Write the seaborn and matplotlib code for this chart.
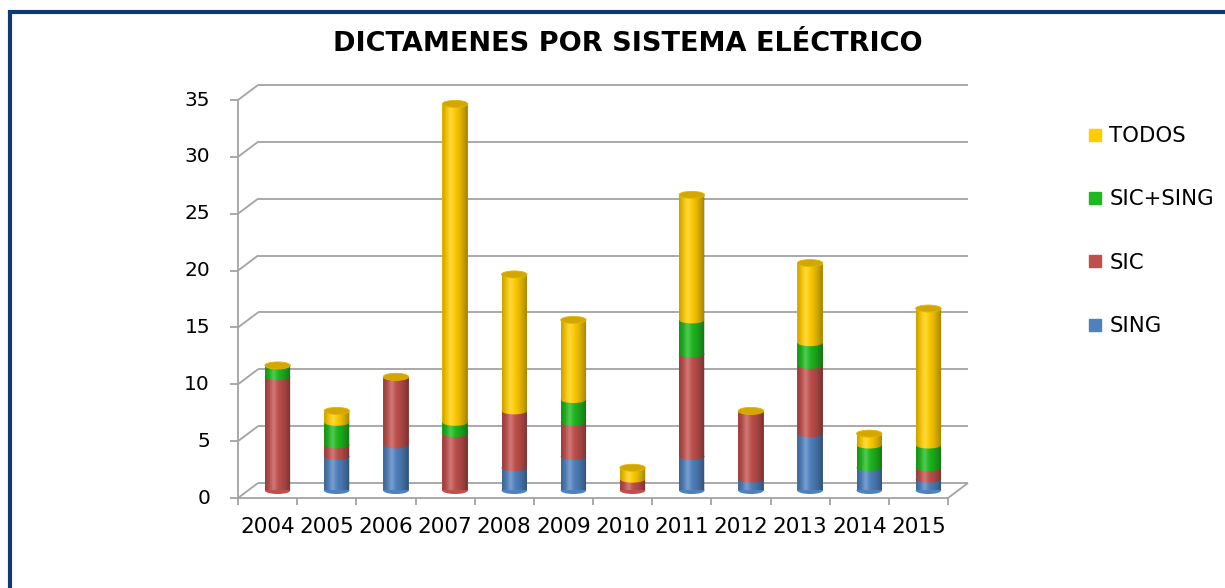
import numpy as np
import pandas as pd
import matplotlib
matplotlib.use("Agg")
import matplotlib.pyplot as plt
import seaborn as sns
from matplotlib.patches import Ellipse, Rectangle, Polygon
from matplotlib.lines import Line2D

years = ["2004", "2005", "2006", "2007", "2008", "2009",
         "2010", "2011", "2012", "2013", "2014", "2015"]
sing = [0, 3, 4, 0, 2, 3, 0, 3, 1, 5, 2, 1]
sic = [10, 1, 6, 5, 5, 3, 1, 9, 6, 6, 0, 1]
sic_sing = [1, 2, 0, 1, 0, 2, 0, 3, 0, 2, 2, 2]
todos = [0, 1, 0, 28, 12, 7, 1, 11, 0, 7, 1, 12]
series = ["SING", "SIC", "SIC+SING", "TODOS"]
colors = ["#4f81bd", "#c0504d", "#1fb81f", "#ffcc00"]
y_ticks = [0, 5, 10, 15, 20, 25, 30, 35]

W, H = 1225, 588
# plane the cylinders stand on (half way between front axis and back wall), in px
AX_LEFT, AX_RIGHT = 248, 958
AX_TOP, AX_BOTTOM = 92.5, 490.5
DEPTH_X, DEPTH_Y = 10, 7.5
BAR_W = 0.43
GRID = "#a3a3a3"


def main():
    sns.set_theme(style="white")
    plt.rcParams["font.family"] = ["DejaVu Sans"]
    plt.rcParams["text.color"] = "black"

    df = pd.DataFrame({"year": years, "SING": sing, "SIC": sic,
                       "SIC+SING": sic_sing, "TODOS": todos})
    stack = df[series].cumsum(axis=1)
    stack["year"] = years

    fig = plt.figure(figsize=(W / 100, H / 100), dpi=100)
    ax = fig.add_axes([AX_LEFT / W, 1 - AX_BOTTOM / H,
                       (AX_RIGHT - AX_LEFT) / W, (AX_BOTTOM - AX_TOP) / H])

    px_x = (AX_RIGHT - AX_LEFT) / 12
    px_y = (AX_BOTTOM - AX_TOP) / 35
    dx = DEPTH_X / px_x
    dy = DEPTH_Y / px_y
    e_h = 7 / px_y

    # stacked cylinders: totals first, lower sums drawn over them
    for i in reversed(range(len(series))):
        sns.barplot(data=stack, x="year", y=series[i], color=colors[i],
                    saturation=1, width=BAR_W, errorbar=None, linewidth=0,
                    ax=ax, zorder=2)

    u = np.linspace(0, 1, 80)
    dark = np.zeros((1, 80, 4))
    dark[0, :, 3] = (0.38 * np.clip((u - 0.4) / 0.6, 0, 1) ** 1.6
                     + 0.22 * np.clip((0.4 - u) / 0.4, 0, 1) ** 2)
    light = np.ones((1, 80, 4))
    light[0, :, 3] = 0.22 * np.exp(-((u - 0.33) / 0.12) ** 2)

    vals = df[series].to_numpy()
    cum = stack[series].to_numpy()
    for j in range(len(years)):
        total = cum[j, -1]
        x0, x1 = j - BAR_W / 2, j + BAR_W / 2
        nz = [i for i in range(4) if vals[j, i] > 0]
        # rounded bottom of the cylinder
        ax.add_patch(Ellipse((j, 0), BAR_W, e_h, color=colors[nz[0]], lw=0,
                             zorder=3, clip_on=False))
        # curved boundaries between segments
        for i in nz[1:]:
            ax.add_patch(Ellipse((j, cum[j, i - 1]), BAR_W, e_h, color=colors[i],
                                 lw=0, zorder=3, clip_on=False))
        t = np.linspace(np.pi, 2 * np.pi, 40)
        outline = np.column_stack([j + BAR_W / 2 * np.cos(t), e_h / 2 * np.sin(t)])
        outline = np.vstack([outline, [[x1, total], [x0, total]]])
        clip = Polygon(outline, closed=True, transform=ax.transData)
        for img in (dark, light):
            im = ax.imshow(img, extent=(x0, x1, -e_h / 2, total), aspect="auto",
                           interpolation="bilinear", zorder=4)
            im.set_clip_path(clip)
        ax.add_patch(Ellipse((j, total), BAR_W, e_h, facecolor="#d4a600",
                             edgecolor="#e0b800", lw=0.6, zorder=5, clip_on=False))

    ax.set_xlim(-0.5, 11.5)
    ax.set_ylim(0, 35)
    ax.axis("off")

    line_kw = dict(color=GRID, lw=1.3, clip_on=False, zorder=1,
                   solid_capstyle="butt")
    left_f, right_f = -0.5 - dx, 11.5 - dx
    for y in y_ticks:
        ax.plot([-0.5 + dx, 11.5 + dx], [y + dy, y + dy], **line_kw)
        ax.plot([left_f, -0.5 + dx], [y - dy, y + dy], **line_kw)
        ax.plot([left_f - 8 / px_x, left_f], [y - dy, y - dy], **line_kw)
        ax.text(left_f - 28 / px_x, y - dy, str(y), ha="right", va="center",
                fontsize=14.5, color="black")
    ax.plot([left_f, left_f], [-dy, 35 - dy], **line_kw)
    ax.plot([left_f, right_f], [-dy, -dy], **line_kw)
    ax.plot([right_f, 11.5 + dx], [-dy, dy], **line_kw)
    for k in range(len(years) + 1):
        ax.plot([k - 0.5 - dx] * 2, [-dy, -dy - 7 / px_y], **line_kw)
    for j, yr in enumerate(years):
        ax.text(j - dx, -dy - 29 / px_y, yr, ha="center", va="center",
                fontsize=15.5, color="black")

    fig.text(628 / W, 1 - 44 / H, "DICTAMENES POR SISTEMA ELÉCTRICO",
             ha="center", va="center", fontsize=19.5, fontweight="bold",
             color="black")

    handles = [Line2D([], [], marker="s", ls="", color=colors[i], markersize=8.5)
               for i in reversed(range(4))]
    leg = fig.legend(handles, list(reversed(series)), loc="center left",
                     bbox_to_anchor=(1086 / W, 1 - 231 / H), frameon=False,
                     fontsize=15.3, labelspacing=2.04, handlelength=0.8,
                     handletextpad=0.3, borderpad=0, borderaxespad=0)
    for txt in leg.get_texts():
        txt.set_color("black")

    fig.add_artist(Rectangle((9.5 / W, -0.2), 2, 1.2 - 11.5 / H, fill=False,
                             edgecolor="#0e3b6e", lw=3,
                             transform=fig.transFigure))

    fig.savefig("out.png", dpi=100)


if __name__ == "__main__":
    main()
